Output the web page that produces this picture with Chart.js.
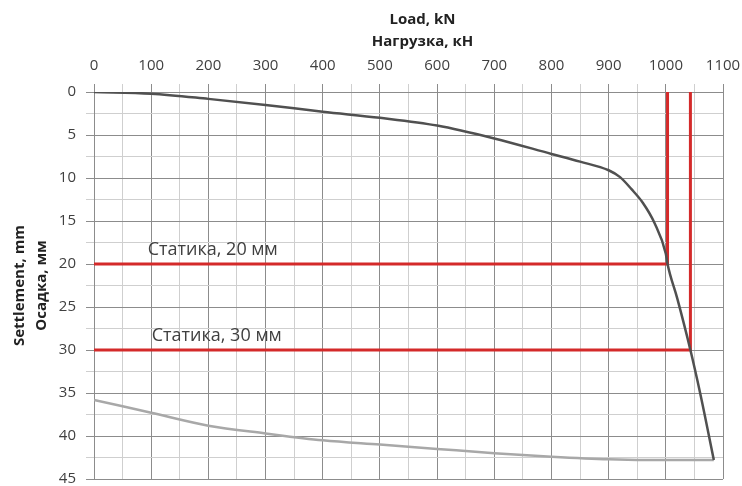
<!DOCTYPE html>
<html><head><meta charset="utf-8">
<script src="https://cdn.jsdelivr.net/npm/chart.js@4/dist/chart.umd.min.js"></script>
<style>html,body{margin:0;padding:0;background:#fff}#wrap{width:742px;height:486px}</style>
</head><body><div id="wrap"><canvas id="c" width="742" height="486"></canvas></div>
<script>
const loadUp = [0,100,200,300,400,500,600,700,800,850,900,920,940,960,980,1000,1003,1020,1043,1060,1084];
const settleUp = [0,0.2,0.8,1.5,2.3,3.0,3.9,5.4,7.2,8.1,9.1,9.9,11.3,12.9,15.2,18.8,20,24,30,35,42.8];
const loadDown = [1084,1000,900,800,700,600,500,400,300,200,100,0];
const settleDown = [42.8,42.8,42.7,42.4,42.0,41.5,41.0,40.5,39.7,38.8,37.3,35.8];
const limitLoads = [1003,1043];
const limitSettle = [20,30];
const limitLabels = ['Статика, 20 мм','Статика, 30 мм'];
const labelLoads = [94,101];
const xTitle = ['Load, kN','Нагрузка, кН'];
const yTitle = ['Settlement, mm','Осадка, мм'];

const pts = (xs, ys) => xs.map((x,i)=>({x, y: ys[i]}));
const red = '#d42a2a';
const datasets = [
  {data: pts(loadUp, settleUp), borderColor:'#505050', borderWidth:2.5, pointRadius:0, cubicInterpolationMode:'monotone'},
  {data: pts(loadDown, settleDown), borderColor:'#a8a8a8', borderWidth:2.5, pointRadius:0, cubicInterpolationMode:'monotone'}
];
limitLoads.forEach((L,i)=>{
  datasets.push({data:[{x:0,y:limitSettle[i]},{x:L,y:limitSettle[i]},{x:L,y:0}], borderColor:red, borderWidth:3, pointRadius:0, tension:0});
});

const labelPlugin = {
  id:'labels',
  afterDatasetsDraw(chart){
    const {ctx, chartArea, scales:{x,y}} = chart;
    ctx.save();
    ctx.font = '18px "Open Sans", sans-serif';
    ctx.fillStyle = '#404040';
    ctx.textBaseline = 'middle';
    ctx.textAlign = 'left';
    limitLabels.forEach((t,i)=>{
      ctx.fillText(t, x.getPixelForValue(labelLoads[i]), y.getPixelForValue(limitSettle[i]) - 14);
    });
    // x axis title (two lines)
    ctx.font = 'bold 15px "Open Sans", sans-serif';
    ctx.fillStyle = '#222';
    ctx.textAlign = 'center';
    const cx = (chartArea.left + chartArea.right) / 2 + 14;
    xTitle.forEach((t,i)=> ctx.fillText(t, cx, 20 + i*22));
    ctx.restore();
  }
};

const gridColor = c => (c.tick && c.tick.major) ? '#8c8c8c' : '#cfcfcf';
const tickFont = {family:'"Open Sans", sans-serif', size:15};
const titleFont = {family:'"Open Sans", sans-serif', size:15, weight:'bold', lineHeight:1.47};

new Chart(document.getElementById('c'), {
  type:'line',
  data:{datasets},
  plugins:[labelPlugin],
  options:{
    responsive:false, animation:false,
    layout:{padding:{left:9,right:19,top:9,bottom:7}},
    plugins:{legend:{display:false}, tooltip:{enabled:false}},
    scales:{
      x:{type:'linear', position:'top', min:0, max:1100,
        afterBuildTicks(s){ const t=[]; for(let v=0; v<=1100; v+=50) t.push({value:v, major: v%100===0}); s.ticks=t; },
        afterFit(s){ s.height = 83; s.paddingLeft = 0; s.paddingRight = 0; },
        ticks:{autoSkip:false, maxRotation:0, color:'#404040', font:tickFont, padding:9,
          callback:(v)=> v%100===0 ? String(v) : ''},
        grid:{color:gridColor, lineWidth:1, tickLength:8, drawTicks:true},
        border:{color:'#8c8c8c'},
        title:{display:false}
      },
      y:{type:'linear', reverse:true, min:0, max:45,
        afterBuildTicks(s){ const t=[]; for(let v=0; v<=45; v+=2.5) t.push({value:v, major: v%5===0}); s.ticks=t; },
        afterFit(s){ s.width = 85; s.paddingTop = 0; s.paddingBottom = 0; },
        ticks:{autoSkip:false, color:'#404040', font:tickFont, padding:10,
          callback:(v)=> v%5===0 ? String(v) : ''},
        grid:{color:gridColor, lineWidth:1, tickLength:8},
        border:{color:'#8c8c8c'},
        title:{display:true, text:yTitle, color:'#222', font:titleFont, padding:{top:0,bottom:0}}
      }
    }
  }
});
</script></body></html>
